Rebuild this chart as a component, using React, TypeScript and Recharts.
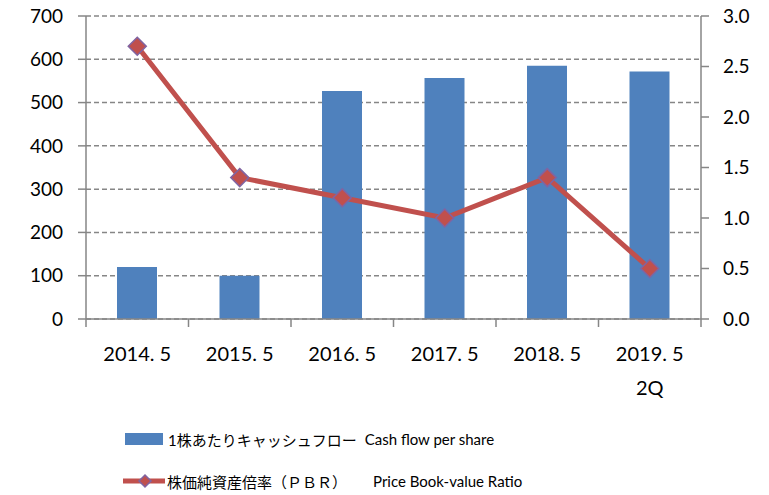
import React from "react";
import {
  ComposedChart,
  Bar,
  Line,
  XAxis,
  YAxis,
  CartesianGrid,
  Legend,
} from "recharts";

const periods = ["2014. 5", "2015. 5", "2016. 5", "2017. 5", "2018. 5", "2019. 5"];
const periodSub = ["", "", "", "", "", "2Q"];
const cashFlow = [120, 100, 527, 557, 585, 572];
const pbr = [2.7, 1.4, 1.2, 1.0, 1.4, 0.5];
const leftTicks = [0, 100, 200, 300, 400, 500, 600, 700];
const rightTicks = [0, 0.5, 1.0, 1.5, 2.0, 2.5, 3.0];

const BAR_NAME = "1株あたりキャッシュフロー";
const BAR_NAME_EN = "Cash flow per share";
const LINE_NAME = "株価純資産倍率（ＰＢＲ）";
const LINE_NAME_EN = "Price Book-value Ratio";

const data = periods.map((p, i) => ({
  period: p,
  sub: periodSub[i],
  cf: cashFlow[i],
  pbr: pbr[i],
}));

const FONT = "Lato, 'Noto Sans CJK JP', sans-serif";
const GREY = "#868686";
const BLUE = "#4F81BD";
const RED = "#C0504D";
const PURPLE = "#8064A2";

const W = 769;
const H = 495;
const LEFT_W = 86;
const RIGHT_W = 68;
const X_TICK_MARGIN = 10;
const BAND = (W - LEFT_W - RIGHT_W) / periods.length;

function XTick(props: any) {
  const { x, y, payload, index } = props;
  const axisY = y - X_TICK_MARGIN;
  const sub = periodSub[index];
  return (
    <g>
      <line x1={x - BAND / 2} x2={x - BAND / 2} y1={axisY} y2={axisY + 8} stroke={GREY} strokeWidth={1.5} />
      {index === periods.length - 1 && (
        <line x1={x + BAND / 2} x2={x + BAND / 2} y1={axisY} y2={axisY + 8} stroke={GREY} strokeWidth={1.5} />
      )}
      <text x={x} y={axisY + 42} textAnchor="middle" fontSize={20} fill="#000" fontFamily={FONT}>
        {payload.value}
      </text>
      {sub && (
        <text x={x} y={axisY + 76} textAnchor="middle" fontSize={20} fill="#000" fontFamily={FONT}>
          {sub}
        </text>
      )}
    </g>
  );
}

function Diamond(props: any) {
  const { cx, cy } = props;
  if (cx == null || cy == null) return null;
  const r = 9;
  return (
    <polygon
      points={`${cx},${cy - r} ${cx + r},${cy} ${cx},${cy + r} ${cx - r},${cy}`}
      fill={RED}
      stroke={PURPLE}
      strokeWidth={1.5}
    />
  );
}

function LegendBox() {
  const row: React.CSSProperties = {
    display: "flex",
    alignItems: "center",
    height: 42,
    fontFamily: FONT,
    color: "#000",
    whiteSpace: "nowrap",
  };
  return (
    <div style={{ width: W, height: 86, paddingLeft: 123, paddingTop: 13, boxSizing: "border-box" }}>
      <div style={row}>
        <svg width={42} height={14} style={{ marginRight: 3 }}>
          <rect x={2} y={1} width={38} height={12} fill={BLUE} />
        </svg>
        <span style={{ fontSize: 15 }}>{BAR_NAME}</span>
        <span style={{ fontSize: 15, marginLeft: 8 }}>{BAR_NAME_EN}</span>
      </div>
      <div style={row}>
        <svg width={42} height={16} style={{ marginRight: 2 }}>
          <line x1={0} x2={42} y1={8} y2={8} stroke={RED} strokeWidth={5} />
          <polygon points="22,2 28,8 22,14 16,8" fill={RED} stroke={PURPLE} strokeWidth={1.5} />
        </svg>
        <span style={{ fontSize: 15 }}>{LINE_NAME}</span>
        <span style={{ fontSize: 15, marginLeft: 26 }}>{LINE_NAME_EN}</span>
      </div>
    </div>
  );
}

export default function App() {
  return (
    <div style={{ position: "absolute", left: 0, top: 0, background: "#fff" }}>
      <ComposedChart
        width={W}
        height={H}
        data={data}
        margin={{ top: 16, right: 0, bottom: 4, left: 0 }}
        barCategoryGap={0}
        style={{ fontFamily: FONT }}
      >
        <CartesianGrid vertical={false} yAxisId="left" stroke={GREY} strokeDasharray="5 3" strokeWidth={1.5} />
        <XAxis
          dataKey="period"
          tickLine={false}
          tickSize={0}
          tickMargin={X_TICK_MARGIN}
          axisLine={{ stroke: GREY, strokeWidth: 1.5 }}
          tick={<XTick />}
          height={86}
          interval={0}
        />
        <YAxis
          yAxisId="left"
          orientation="left"
          width={LEFT_W}
          domain={[0, 700]}
          ticks={leftTicks}
          interval={0}
          tickSize={8}
          tickMargin={15}
          axisLine={{ stroke: GREY, strokeWidth: 1.5 }}
          tickLine={{ stroke: GREY, strokeWidth: 1.5 }}
          tick={{ fill: "#000", fontSize: 19, fontFamily: FONT }}
        />
        <YAxis
          yAxisId="right"
          orientation="right"
          width={RIGHT_W}
          domain={[0, 3]}
          ticks={rightTicks}
          interval={0}
          tickFormatter={(v: number) => v.toFixed(1)}
          tickSize={8}
          tickMargin={14}
          axisLine={{ stroke: GREY, strokeWidth: 1.5 }}
          tickLine={{ stroke: GREY, strokeWidth: 1.5 }}
          tick={{ fill: "#000", fontSize: 19, fontFamily: FONT }}
        />
        <Bar
          yAxisId="left"
          dataKey="cf"
          name={BAR_NAME}
          fill={BLUE}
          barSize={40}
          isAnimationActive={false}
        />
        <Line
          yAxisId="right"
          dataKey="pbr"
          name={LINE_NAME}
          stroke={RED}
          strokeWidth={5}
          dot={<Diamond />}
          activeDot={false}
          isAnimationActive={false}
        />
        <Legend verticalAlign="bottom" content={<LegendBox />} wrapperStyle={{ left: 0, width: W }} />
      </ComposedChart>
    </div>
  );
}
